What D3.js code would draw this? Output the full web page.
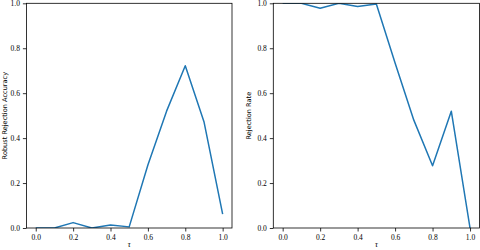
<!DOCTYPE html>
<html>
<head>
<meta charset="utf-8">
<script src="https://cdn.jsdelivr.net/npm/d3@7"></script>
<style>
  body { margin: 0; background: #fff; }
  .tick text { font-family: "Liberation Serif", "DejaVu Serif", serif; font-size: 7.5px; fill: #000; }
  .ylabel { font-family: "DejaVu Sans", sans-serif; font-size: 6.6px; fill: #000; }
  .xlabel { font-family: "Liberation Serif", serif; font-style: italic; font-size: 8px; fill: #000; }
</style>
</head>
<body>
<div id="chart"></div>
<script>
const tau = [0.0, 0.1, 0.2, 0.3, 0.4, 0.5, 0.6, 0.7, 0.8, 0.9, 1.0];
const robustAccuracy = [0.0, 0.0, 0.024, 0.0, 0.013, 0.005, 0.28, 0.52, 0.722, 0.473, 0.062];
const rejectionRate = [1.0, 1.0, 0.978, 1.0, 0.986, 0.997, 0.734, 0.48, 0.277, 0.52, 0.0];
const xTicks = [0.0, 0.2, 0.4, 0.6, 0.8, 1.0];
const yTicks = [0.0, 0.2, 0.4, 0.6, 0.8, 1.0];

const svg = d3.select("#chart").append("svg")
    .attr("width", 480)
    .attr("height", 250);

function drawPanel(cfg) {
    const x = d3.scaleLinear().domain([-0.05, 1.05]).range([cfg.left, cfg.right]);
    const y = d3.scaleLinear().domain([0, 1]).range([cfg.bottom, cfg.top]);

    const g = svg.append("g");

    const clipId = "clip" + cfg.id;
    g.append("clipPath").attr("id", clipId)
      .append("rect")
        .attr("x", cfg.left).attr("y", cfg.top)
        .attr("width", cfg.right - cfg.left).attr("height", cfg.bottom - cfg.top);

    const line = d3.line().x(d => x(d[0])).y(d => y(d[1]));
    g.append("path")
        .datum(tau.map((t, i) => [t, cfg.values[i]]))
        .attr("clip-path", `url(#${clipId})`)
        .attr("fill", "none")
        .attr("stroke", "#1f77b4")
        .attr("stroke-width", 1.5)
        .attr("stroke-linejoin", "round")
        .attr("d", line);

    const xAxis = d3.axisBottom(x).tickValues(xTicks).tickFormat(d3.format(".1f")).tickSize(3.5).tickPadding(3);
    const yAxis = d3.axisLeft(y).tickValues(yTicks).tickFormat(d3.format(".1f")).tickSize(3.5).tickPadding(3);

    g.append("g").attr("transform", `translate(0,${cfg.bottom})`).call(xAxis)
      .call(a => a.select(".domain").remove())
      .selectAll("line").attr("stroke-width", 0.8);
    g.append("g").attr("transform", `translate(${cfg.left},0)`).call(yAxis)
      .call(a => a.select(".domain").remove())
      .selectAll("line").attr("stroke-width", 0.8);

    g.append("rect")
        .attr("x", cfg.left).attr("y", cfg.top)
        .attr("width", cfg.right - cfg.left).attr("height", cfg.bottom - cfg.top)
        .attr("fill", "none").attr("stroke", "#000").attr("stroke-width", 0.8);

    g.append("text").attr("class", "xlabel")
        .attr("x", (cfg.left + cfg.right) / 2).attr("y", 247)
        .attr("text-anchor", "middle").text("τ");

    g.append("text").attr("class", "ylabel")
        .attr("transform", `translate(${cfg.ylabelX},${(cfg.top + cfg.bottom) / 2}) rotate(-90)`)
        .attr("text-anchor", "middle").text(cfg.ylabel);
}

drawPanel({id: 1, left: 26.4, right: 232, top: 3.3, bottom: 228, values: robustAccuracy, ylabel: "Robust Rejection Accuracy", ylabelX: 7});
drawPanel({id: 2, left: 273.3, right: 479.4, top: 3.3, bottom: 228, values: rejectionRate, ylabel: "Rejection Rate", ylabelX: 251});
</script>
</body>
</html>
